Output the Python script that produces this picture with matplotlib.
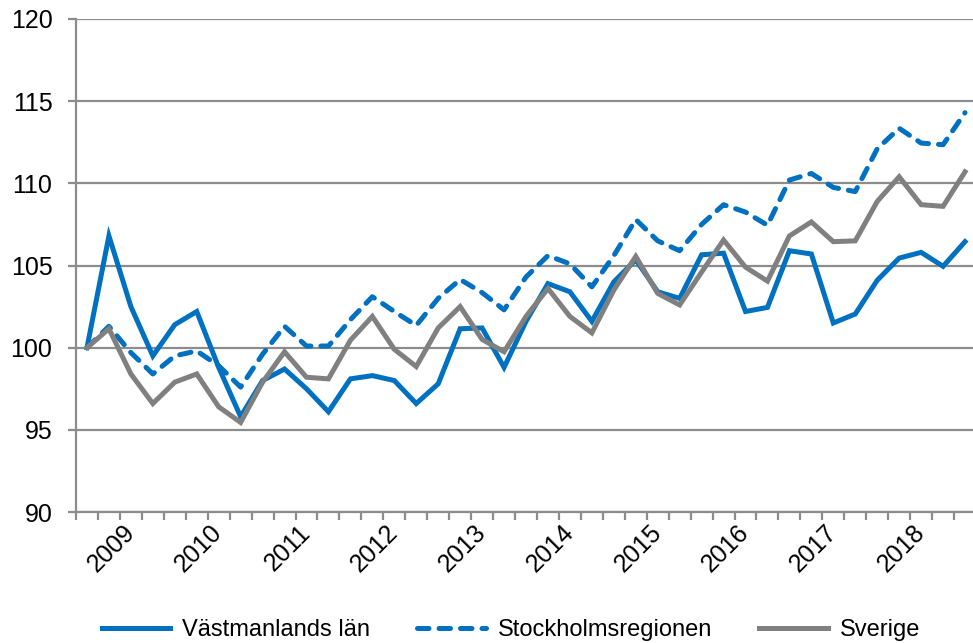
import matplotlib.pyplot as plt
from matplotlib.ticker import FixedLocator, NullFormatter

plt.rcParams['font.family'] = ['Liberation Sans', 'DejaVu Sans']

# quarterly index, first quarter = 100
quarters = list(range(41))
years = ['2009', '2010', '2011', '2012', '2013', '2014', '2015', '2016', '2017', '2018']
year_pos = [2, 6, 10, 14, 18, 22, 26, 30, 34, 38]

vastmanland = [100.0, 106.8, 102.5, 99.5, 101.4, 102.2, 98.8, 95.8, 98.0, 98.7,
               97.5, 96.1, 98.1, 98.3, 98.0, 96.6, 97.8, 101.15, 101.2, 98.8,
               101.6, 103.9, 103.4, 101.6, 104.0, 105.35, 103.4, 103.0, 105.65, 105.75,
               102.2, 102.45, 105.9, 105.7, 101.5, 102.05, 104.1, 105.45, 105.8, 104.95,
               106.45]
stockholm = [100.0, 101.3, 99.7, 98.4, 99.5, 99.8, 98.9, 97.6, 99.6, 101.3,
             100.1, 100.1, 101.7, 103.1, 102.2, 101.35, 103.0, 104.15, 103.35, 102.3,
             104.3, 105.6, 105.1, 103.7, 105.6, 107.8, 106.5, 105.9, 107.5, 108.7,
             108.25, 107.45, 110.2, 110.6, 109.75, 109.5, 112.1, 113.35, 112.45, 112.35,
             114.3]
sverige = [100.0, 101.15, 98.4, 96.6, 97.9, 98.4, 96.4, 95.45, 97.9, 99.75,
           98.2, 98.1, 100.45, 101.9, 99.9, 98.85, 101.2, 102.5, 100.5, 99.75,
           101.9, 103.6, 101.9, 100.9, 103.5, 105.55, 103.3, 102.6, 104.6, 106.55,
           104.9, 104.05, 106.8, 107.65, 106.45, 106.5, 108.9, 110.4, 108.7, 108.6,
           110.7]

blue = '#0070C0'
grey = '#808080'
axis_grey = '#8C8C8C'

fig = plt.figure(figsize=(9.73, 6.43), dpi=100)
ax = fig.add_axes([76 / 973, 1 - 512 / 643, 900 / 973, 493 / 643])

ax.plot(quarters, vastmanland, color=blue, lw=3.6, solid_joinstyle='miter',
        label='Västmanlands län')
ax.plot(quarters, stockholm, color=blue, lw=3.6, dashes=(2.3, 2.0),
        dash_capstyle='round', label='Stockholmsregionen')
ax.plot(quarters, sverige, color=grey, lw=3.6, solid_joinstyle='miter',
        label='Sverige')

ax.set_xlim(-0.5, 40.5)
ax.set_ylim(90, 120)
ax.set_yticks([90, 95, 100, 105, 110, 115, 120])
ax.grid(axis='y', color=axis_grey, lw=1.6)
ax.set_axisbelow(True)

for side in ['top', 'right']:
    ax.spines[side].set_visible(False)
for side in ['left', 'bottom']:
    ax.spines[side].set_color(axis_grey)
    ax.spines[side].set_linewidth(1.6)

ax.tick_params(axis='y', length=6, width=1.6, color=axis_grey, labelsize=18,
               pad=11, labelcolor='black')

# category boundaries as tick marks, year labels between
ax.xaxis.set_major_locator(FixedLocator([q - 0.5 for q in range(42)]))
ax.xaxis.set_major_formatter(NullFormatter())
ax.tick_params(axis='x', which='major', length=6, width=1.6, color=axis_grey)
ax.set_xticks(year_pos, minor=True)
ax.set_xticklabels(years, minor=True)
ax.tick_params(axis='x', which='minor', length=0, labelsize=18, pad=12)
for lbl in ax.get_xticklabels(minor=True):
    lbl.set_rotation(45)
    lbl.set_rotation_mode('anchor')
    lbl.set_ha('right')
    lbl.set_va('center')

fig.legend(loc='center', bbox_to_anchor=(0.525, 1 - 630 / 643), ncol=3,
           frameon=False, fontsize=17, handlelength=2.9, columnspacing=2.0,
           handletextpad=0.5)

fig.savefig('out.png', dpi=100)
